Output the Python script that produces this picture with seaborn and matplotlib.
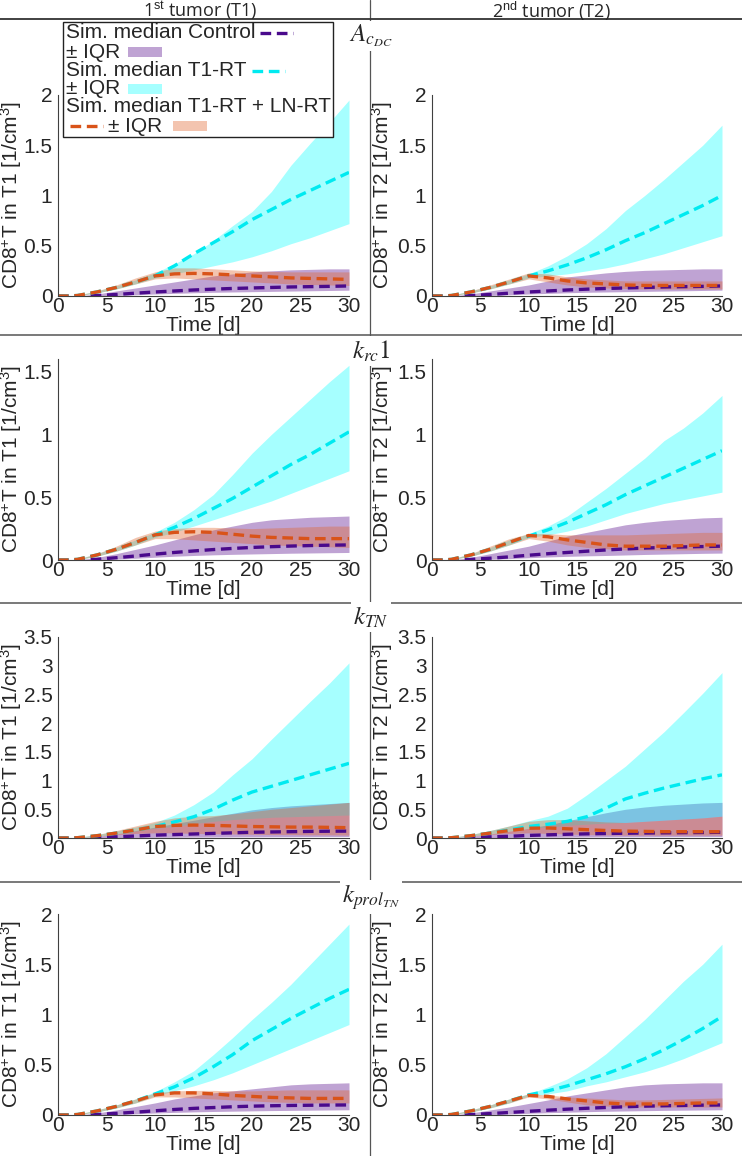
import matplotlib
matplotlib.use("Agg")
import matplotlib.pyplot as plt
from matplotlib.patches import Rectangle
import numpy as np
import seaborn as sns

# DATA
days = [0, 1, 2, 4, 6, 8, 10, 12, 14, 16, 18, 20, 22, 24, 26, 28, 30]

# A_cDC, 1st tumor
acdc_t1_ctrl_med = [0, 0, 0, 0.005, 0.015, 0.028, 0.04, 0.05, 0.06, 0.068, 0.075, 0.08, 0.085, 0.09, 0.093, 0.096, 0.1]
acdc_t1_ctrl_lo = [0, 0, 0, 0.002, 0.006, 0.012, 0.02, 0.026, 0.032, 0.037, 0.04, 0.043, 0.046, 0.049, 0.052, 0.055, 0.058]
acdc_t1_ctrl_hi = [0, 0, 0, 0.02, 0.05, 0.08, 0.11, 0.14, 0.17, 0.2, 0.22, 0.24, 0.25, 0.26, 0.265, 0.27, 0.27]
acdc_t1_rt_med = [0, 0, 0.005, 0.04, 0.085, 0.14, 0.2, 0.3, 0.42, 0.53, 0.64, 0.76, 0.86, 0.96, 1.05, 1.14, 1.23]
acdc_t1_rt_lo = [0, 0, 0.003, 0.03, 0.07, 0.12, 0.18, 0.22, 0.26, 0.3, 0.34, 0.39, 0.45, 0.52, 0.58, 0.65, 0.72]
acdc_t1_rt_hi = [0, 0, 0.008, 0.05, 0.1, 0.16, 0.23, 0.32, 0.42, 0.55, 0.7, 0.84, 1.04, 1.3, 1.52, 1.73, 1.95]
acdc_t1_ln_med = [0, 0, 0.005, 0.04, 0.085, 0.14, 0.2, 0.22, 0.225, 0.22, 0.21, 0.2, 0.19, 0.18, 0.175, 0.17, 0.165]
acdc_t1_ln_lo = [0, 0, 0.003, 0.03, 0.07, 0.12, 0.17, 0.18, 0.17, 0.16, 0.15, 0.14, 0.13, 0.12, 0.115, 0.11, 0.105]
acdc_t1_ln_hi = [0, 0, 0.008, 0.05, 0.11, 0.18, 0.24, 0.28, 0.28, 0.27, 0.26, 0.25, 0.245, 0.24, 0.24, 0.24, 0.24]

# A_cDC, 2nd tumor
acdc_t2_ctrl_med = [0, 0, 0, 0.005, 0.015, 0.028, 0.04, 0.05, 0.06, 0.068, 0.075, 0.08, 0.085, 0.09, 0.093, 0.096, 0.1]
acdc_t2_ctrl_lo = [0, 0, 0, 0.002, 0.006, 0.012, 0.02, 0.026, 0.032, 0.037, 0.04, 0.043, 0.046, 0.049, 0.052, 0.055, 0.058]
acdc_t2_ctrl_hi = [0, 0, 0, 0.02, 0.05, 0.08, 0.11, 0.15, 0.19, 0.21, 0.23, 0.245, 0.255, 0.26, 0.265, 0.27, 0.27]
acdc_t2_rt_med = [0, 0, 0.005, 0.04, 0.085, 0.14, 0.2, 0.25, 0.31, 0.38, 0.46, 0.55, 0.63, 0.72, 0.81, 0.9, 1.0]
acdc_t2_rt_lo = [0, 0, 0.003, 0.03, 0.07, 0.12, 0.18, 0.2, 0.22, 0.25, 0.28, 0.32, 0.37, 0.42, 0.48, 0.54, 0.6]
acdc_t2_rt_hi = [0, 0, 0.008, 0.05, 0.1, 0.16, 0.22, 0.3, 0.4, 0.52, 0.67, 0.85, 1.0, 1.16, 1.33, 1.5, 1.7]
acdc_t2_ln_med = [0, 0, 0.005, 0.04, 0.085, 0.14, 0.2, 0.18, 0.15, 0.13, 0.12, 0.11, 0.105, 0.105, 0.105, 0.105, 0.105]
acdc_t2_ln_lo = [0, 0, 0.003, 0.03, 0.07, 0.12, 0.17, 0.14, 0.11, 0.09, 0.08, 0.075, 0.07, 0.07, 0.07, 0.07, 0.07]
acdc_t2_ln_hi = [0, 0, 0.008, 0.05, 0.11, 0.17, 0.23, 0.22, 0.19, 0.17, 0.16, 0.15, 0.15, 0.15, 0.15, 0.15, 0.15]

# k_rc1, 1st tumor
krc_t1_ctrl_med = [0, 0, 0, 0.006, 0.018, 0.032, 0.047, 0.06, 0.072, 0.083, 0.092, 0.1, 0.106, 0.111, 0.115, 0.118, 0.12]
krc_t1_ctrl_lo = [0, 0, 0, 0.002, 0.007, 0.014, 0.022, 0.03, 0.036, 0.041, 0.045, 0.048, 0.051, 0.054, 0.056, 0.058, 0.06]
krc_t1_ctrl_hi = [0, 0, 0, 0.02, 0.05, 0.085, 0.12, 0.16, 0.2, 0.24, 0.27, 0.3, 0.32, 0.33, 0.34, 0.345, 0.35]
krc_t1_rt_med = [0, 0, 0.005, 0.04, 0.085, 0.14, 0.2, 0.26, 0.33, 0.41, 0.49, 0.58, 0.67, 0.76, 0.84, 0.93, 1.02]
krc_t1_rt_lo = [0, 0, 0.003, 0.03, 0.07, 0.12, 0.18, 0.22, 0.27, 0.32, 0.37, 0.42, 0.47, 0.53, 0.59, 0.65, 0.71]
krc_t1_rt_hi = [0, 0, 0.008, 0.05, 0.1, 0.16, 0.22, 0.3, 0.4, 0.52, 0.68, 0.85, 1.0, 1.14, 1.28, 1.42, 1.55]
krc_t1_ln_med = [0, 0, 0.005, 0.04, 0.085, 0.14, 0.2, 0.22, 0.225, 0.22, 0.205, 0.19, 0.18, 0.175, 0.17, 0.17, 0.17]
krc_t1_ln_lo = [0, 0, 0.003, 0.03, 0.07, 0.12, 0.17, 0.17, 0.16, 0.15, 0.14, 0.13, 0.12, 0.115, 0.11, 0.105, 0.1]
krc_t1_ln_hi = [0, 0, 0.008, 0.05, 0.11, 0.18, 0.23, 0.25, 0.26, 0.26, 0.255, 0.25, 0.255, 0.26, 0.265, 0.27, 0.27]

# k_rc1, 2nd tumor
krc_t2_ctrl_med = [0, 0, 0, 0.005, 0.014, 0.025, 0.038, 0.05, 0.06, 0.07, 0.08, 0.088, 0.095, 0.1, 0.104, 0.107, 0.11]
krc_t2_ctrl_lo = [0, 0, 0, 0.002, 0.006, 0.011, 0.018, 0.024, 0.029, 0.033, 0.036, 0.04, 0.044, 0.047, 0.05, 0.053, 0.055]
krc_t2_ctrl_hi = [0, 0, 0, 0.02, 0.05, 0.08, 0.11, 0.15, 0.19, 0.22, 0.25, 0.28, 0.3, 0.315, 0.325, 0.335, 0.34]
krc_t2_rt_med = [0, 0, 0.005, 0.04, 0.085, 0.14, 0.19, 0.24, 0.3, 0.37, 0.44, 0.52, 0.59, 0.66, 0.73, 0.8, 0.87]
krc_t2_rt_lo = [0, 0, 0.003, 0.03, 0.07, 0.12, 0.18, 0.2, 0.23, 0.27, 0.32, 0.37, 0.41, 0.45, 0.48, 0.51, 0.54]
krc_t2_rt_hi = [0, 0, 0.008, 0.05, 0.1, 0.16, 0.21, 0.27, 0.35, 0.46, 0.57, 0.69, 0.81, 0.95, 1.05, 1.17, 1.31]
krc_t2_ln_med = [0, 0, 0.005, 0.04, 0.085, 0.14, 0.195, 0.185, 0.16, 0.14, 0.12, 0.11, 0.11, 0.11, 0.115, 0.12, 0.12]
krc_t2_ln_lo = [0, 0, 0.003, 0.03, 0.07, 0.12, 0.17, 0.15, 0.12, 0.1, 0.09, 0.08, 0.08, 0.08, 0.08, 0.08, 0.08]
krc_t2_ln_hi = [0, 0, 0.008, 0.05, 0.11, 0.17, 0.21, 0.21, 0.2, 0.2, 0.2, 0.2, 0.205, 0.21, 0.215, 0.22, 0.22]

# k_TN, 1st tumor
ktn_t1_ctrl_med = [0, 0, 0, 0.01, 0.02, 0.035, 0.05, 0.06, 0.07, 0.08, 0.09, 0.1, 0.105, 0.11, 0.115, 0.118, 0.12]
ktn_t1_ctrl_lo = [0, 0, 0, 0.003, 0.006, 0.01, 0.012, 0.014, 0.016, 0.018, 0.02, 0.021, 0.022, 0.023, 0.024, 0.025, 0.025]
ktn_t1_ctrl_hi = [0, 0, 0, 0.03, 0.07, 0.13, 0.19, 0.25, 0.31, 0.37, 0.43, 0.49, 0.53, 0.56, 0.58, 0.6, 0.62]
ktn_t1_rt_med = [0, 0, 0.005, 0.04, 0.085, 0.14, 0.2, 0.28, 0.37, 0.5, 0.66, 0.8, 0.9, 1.0, 1.1, 1.2, 1.3]
ktn_t1_rt_lo = [0, 0, 0.003, 0.03, 0.07, 0.12, 0.17, 0.2, 0.25, 0.29, 0.32, 0.34, 0.36, 0.37, 0.38, 0.39, 0.4]
ktn_t1_rt_hi = [0, 0, 0.01, 0.06, 0.12, 0.19, 0.27, 0.4, 0.58, 0.8, 1.1, 1.38, 1.72, 2.05, 2.38, 2.7, 3.05]
ktn_t1_ln_med = [0, 0, 0.005, 0.04, 0.085, 0.14, 0.2, 0.22, 0.225, 0.22, 0.21, 0.2, 0.195, 0.19, 0.19, 0.185, 0.18]
ktn_t1_ln_lo = [0, 0, 0.003, 0.03, 0.06, 0.08, 0.09, 0.09, 0.08, 0.075, 0.07, 0.065, 0.06, 0.06, 0.055, 0.055, 0.05]
ktn_t1_ln_hi = [0, 0, 0.01, 0.06, 0.13, 0.21, 0.29, 0.35, 0.38, 0.39, 0.42, 0.46, 0.5, 0.53, 0.56, 0.59, 0.62]

# k_TN, 2nd tumor
ktn_t2_ctrl_med = [0, 0, 0, 0.01, 0.02, 0.03, 0.045, 0.055, 0.065, 0.072, 0.078, 0.083, 0.087, 0.09, 0.093, 0.096, 0.1]
ktn_t2_ctrl_lo = [0, 0, 0, 0.003, 0.006, 0.01, 0.012, 0.014, 0.016, 0.018, 0.02, 0.021, 0.022, 0.023, 0.024, 0.025, 0.025]
ktn_t2_ctrl_hi = [0, 0, 0, 0.03, 0.07, 0.12, 0.17, 0.23, 0.3, 0.37, 0.44, 0.5, 0.54, 0.57, 0.59, 0.61, 0.62]
ktn_t2_rt_med = [0, 0, 0.005, 0.04, 0.085, 0.14, 0.2, 0.24, 0.29, 0.37, 0.52, 0.68, 0.78, 0.87, 0.95, 1.03, 1.1]
ktn_t2_rt_lo = [0, 0, 0.003, 0.03, 0.07, 0.12, 0.17, 0.19, 0.22, 0.24, 0.26, 0.27, 0.29, 0.31, 0.33, 0.35, 0.38]
ktn_t2_rt_hi = [0, 0, 0.01, 0.06, 0.13, 0.21, 0.3, 0.38, 0.52, 0.75, 1.0, 1.25, 1.55, 1.85, 2.18, 2.52, 2.88]
ktn_t2_ln_med = [0, 0, 0.005, 0.04, 0.085, 0.13, 0.17, 0.175, 0.16, 0.145, 0.13, 0.12, 0.115, 0.11, 0.11, 0.11, 0.11]
ktn_t2_ln_lo = [0, 0, 0.003, 0.03, 0.06, 0.08, 0.09, 0.08, 0.07, 0.06, 0.055, 0.05, 0.05, 0.05, 0.05, 0.05, 0.05]
ktn_t2_ln_hi = [0, 0, 0.01, 0.06, 0.13, 0.21, 0.29, 0.32, 0.32, 0.3, 0.28, 0.27, 0.29, 0.31, 0.33, 0.35, 0.38]

# k_prol_TN, 1st tumor
kprol_t1_ctrl_med = [0, 0, 0, 0.006, 0.016, 0.028, 0.042, 0.055, 0.066, 0.074, 0.082, 0.088, 0.092, 0.095, 0.097, 0.099, 0.1]
kprol_t1_ctrl_lo = [0, 0, 0, 0.002, 0.006, 0.012, 0.02, 0.026, 0.031, 0.035, 0.038, 0.041, 0.044, 0.046, 0.048, 0.05, 0.052]
kprol_t1_ctrl_hi = [0, 0, 0, 0.02, 0.05, 0.085, 0.12, 0.16, 0.19, 0.22, 0.24, 0.26, 0.28, 0.3, 0.31, 0.315, 0.32]
kprol_t1_rt_med = [0, 0, 0.005, 0.04, 0.085, 0.14, 0.21, 0.28, 0.37, 0.48, 0.6, 0.74, 0.85, 0.96, 1.06, 1.16, 1.25]
kprol_t1_rt_lo = [0, 0, 0.003, 0.03, 0.07, 0.12, 0.19, 0.24, 0.29, 0.35, 0.42, 0.5, 0.58, 0.66, 0.74, 0.82, 0.9]
kprol_t1_rt_hi = [0, 0, 0.008, 0.05, 0.1, 0.16, 0.23, 0.33, 0.44, 0.6, 0.77, 0.95, 1.12, 1.3, 1.5, 1.7, 1.9]
kprol_t1_ln_med = [0, 0, 0.005, 0.04, 0.085, 0.14, 0.2, 0.22, 0.22, 0.21, 0.195, 0.185, 0.175, 0.17, 0.165, 0.165, 0.165]
kprol_t1_ln_lo = [0, 0, 0.003, 0.03, 0.07, 0.12, 0.18, 0.18, 0.17, 0.16, 0.15, 0.14, 0.13, 0.125, 0.12, 0.12, 0.12]
kprol_t1_ln_hi = [0, 0, 0.008, 0.05, 0.1, 0.16, 0.22, 0.24, 0.245, 0.245, 0.24, 0.24, 0.245, 0.25, 0.25, 0.25, 0.25]

# k_prol_TN, 2nd tumor
kprol_t2_ctrl_med = [0, 0, 0, 0.005, 0.014, 0.025, 0.037, 0.048, 0.058, 0.067, 0.075, 0.082, 0.088, 0.092, 0.095, 0.098, 0.1]
kprol_t2_ctrl_lo = [0, 0, 0, 0.002, 0.005, 0.01, 0.017, 0.023, 0.028, 0.033, 0.037, 0.04, 0.043, 0.046, 0.048, 0.05, 0.052]
kprol_t2_ctrl_hi = [0, 0, 0, 0.02, 0.05, 0.08, 0.115, 0.15, 0.19, 0.22, 0.25, 0.28, 0.3, 0.31, 0.315, 0.32, 0.32]
kprol_t2_rt_med = [0, 0, 0.005, 0.04, 0.085, 0.14, 0.2, 0.24, 0.29, 0.35, 0.41, 0.48, 0.56, 0.65, 0.75, 0.86, 0.98]
kprol_t2_rt_lo = [0, 0, 0.003, 0.03, 0.07, 0.12, 0.19, 0.21, 0.24, 0.29, 0.33, 0.38, 0.43, 0.49, 0.56, 0.64, 0.72]
kprol_t2_rt_hi = [0, 0, 0.008, 0.05, 0.1, 0.16, 0.21, 0.28, 0.36, 0.47, 0.61, 0.78, 0.95, 1.14, 1.33, 1.5, 1.7]
kprol_t2_ln_med = [0, 0, 0.005, 0.04, 0.085, 0.14, 0.195, 0.185, 0.16, 0.14, 0.12, 0.11, 0.11, 0.11, 0.115, 0.12, 0.12]
kprol_t2_ln_lo = [0, 0, 0.003, 0.03, 0.07, 0.12, 0.18, 0.16, 0.13, 0.1, 0.09, 0.08, 0.08, 0.08, 0.08, 0.08, 0.08]
kprol_t2_ln_hi = [0, 0, 0.008, 0.05, 0.1, 0.16, 0.21, 0.2, 0.18, 0.17, 0.16, 0.15, 0.15, 0.155, 0.16, 0.165, 0.17]

row_titles = [r"$A_{c_{DC}}$", r"$k_{rc}1$", r"$k_{TN}$", r"$k_{prol_{TN}}$"]
row_ymax = [2, 1.6, 3.5, 2]
col_headers = [r"1$^{\mathrm{st}}$ tumor (T1)", r"2$^{\mathrm{nd}}$ tumor (T2)"]
col_ylabels = [r"CD8$^{+}$T in T1 [1/cm$^{3}$]", r"CD8$^{+}$T in T2 [1/cm$^{3}$]"]

panels = [
    [(acdc_t1_ctrl_med, acdc_t1_ctrl_lo, acdc_t1_ctrl_hi, acdc_t1_rt_med, acdc_t1_rt_lo, acdc_t1_rt_hi,
      acdc_t1_ln_med, acdc_t1_ln_lo, acdc_t1_ln_hi),
     (acdc_t2_ctrl_med, acdc_t2_ctrl_lo, acdc_t2_ctrl_hi, acdc_t2_rt_med, acdc_t2_rt_lo, acdc_t2_rt_hi,
      acdc_t2_ln_med, acdc_t2_ln_lo, acdc_t2_ln_hi)],
    [(krc_t1_ctrl_med, krc_t1_ctrl_lo, krc_t1_ctrl_hi, krc_t1_rt_med, krc_t1_rt_lo, krc_t1_rt_hi,
      krc_t1_ln_med, krc_t1_ln_lo, krc_t1_ln_hi),
     (krc_t2_ctrl_med, krc_t2_ctrl_lo, krc_t2_ctrl_hi, krc_t2_rt_med, krc_t2_rt_lo, krc_t2_rt_hi,
      krc_t2_ln_med, krc_t2_ln_lo, krc_t2_ln_hi)],
    [(ktn_t1_ctrl_med, ktn_t1_ctrl_lo, ktn_t1_ctrl_hi, ktn_t1_rt_med, ktn_t1_rt_lo, ktn_t1_rt_hi,
      ktn_t1_ln_med, ktn_t1_ln_lo, ktn_t1_ln_hi),
     (ktn_t2_ctrl_med, ktn_t2_ctrl_lo, ktn_t2_ctrl_hi, ktn_t2_rt_med, ktn_t2_rt_lo, ktn_t2_rt_hi,
      ktn_t2_ln_med, ktn_t2_ln_lo, ktn_t2_ln_hi)],
    [(kprol_t1_ctrl_med, kprol_t1_ctrl_lo, kprol_t1_ctrl_hi, kprol_t1_rt_med, kprol_t1_rt_lo, kprol_t1_rt_hi,
      kprol_t1_ln_med, kprol_t1_ln_lo, kprol_t1_ln_hi),
     (kprol_t2_ctrl_med, kprol_t2_ctrl_lo, kprol_t2_ctrl_hi, kprol_t2_rt_med, kprol_t2_rt_lo, kprol_t2_rt_hi,
      kprol_t2_ln_med, kprol_t2_ln_lo, kprol_t2_ln_hi)],
]

# STYLE
sns.set_theme(style="white")
plt.rcParams["font.family"] = ["Liberation Sans", "DejaVu Sans"]
plt.rcParams["mathtext.fontset"] = "custom"
plt.rcParams["mathtext.rm"] = "Liberation Sans"
plt.rcParams["mathtext.it"] = "Liberation Sans:italic"
plt.rcParams["mathtext.bf"] = "Liberation Sans:bold"

ctrl_line, ctrl_fill = "#4a0a8c", "#73339f"
rt_line, rt_fill = "#00eaf0", "#00ffff"
ln_line, ln_fill = "#d95319", "#e0662e"
ctrl_alpha, rt_alpha, ln_alpha = 0.45, 0.35, 0.38
dash = (0, (3.2, 1.7))
lw = 2.4

W, H = 742, 1156
fig = plt.figure(figsize=(W / 100, H / 100), dpi=100)

row_top = [95, 359, 637, 914]
row_h = 201
col_x = [58, 432]
col_w = [291, 290]
ylabel_x = [-0.118, -0.128]


def draw_panel(ax, vals, ymax, ylabel, lx):
    c_med, c_lo, c_hi, r_med, r_lo, r_hi, l_med, l_lo, l_hi = vals
    ax.fill_between(days, c_lo, c_hi, color=ctrl_fill, alpha=ctrl_alpha, lw=0)
    ax.fill_between(days, r_lo, r_hi, color=rt_fill, alpha=rt_alpha, lw=0)
    ax.fill_between(days, l_lo, l_hi, color=ln_fill, alpha=ln_alpha, lw=0)
    sns.lineplot(x=days, y=c_med, ax=ax, color=ctrl_line, linewidth=lw, linestyle=dash)
    sns.lineplot(x=days, y=r_med, ax=ax, color=rt_line, linewidth=lw, linestyle=dash)
    sns.lineplot(x=days, y=l_med, ax=ax, color=ln_line, linewidth=lw, linestyle=dash)
    ax.set_xlim(0, 30)
    ax.set_ylim(0, ymax)
    ax.set_xticks(range(0, 31, 5))
    ticks = np.arange(0, ymax + 0.01, 0.5)
    ax.set_yticks(ticks)
    ax.set_yticklabels([f"{v:g}" for v in ticks])
    ax.set_xlabel("Time [d]", fontsize=15, color="#262626")
    ax.set_ylabel(ylabel, fontsize=15, color="#262626")
    ax.xaxis.set_label_coords(0.5, -0.1)
    ax.yaxis.set_label_coords(lx, 0.5)
    for s in ["top", "right"]:
        ax.spines[s].set_visible(False)
    for s in ["left", "bottom"]:
        ax.spines[s].set_color("#404040")
        ax.spines[s].set_linewidth(0.8)
    ax.tick_params(direction="in", length=3, width=0.8, color="#404040",
                   labelcolor="#262626", labelsize=15)
    ax.tick_params(axis="x", pad=1)
    ax.tick_params(axis="y", pad=4)
    ax.set_facecolor("none")


for r in range(4):
    for c in range(2):
        ax = fig.add_axes([col_x[c] / W, 1 - (row_top[r] + row_h) / H, col_w[c] / W, row_h / H])
        draw_panel(ax, panels[r][c], row_ymax[r], col_ylabels[c], ylabel_x[c])

# overlay in pixel coordinates for dividers, headers, titles and legend
ov = fig.add_axes([0, 0, 1, 1], zorder=10)
ov.set_xlim(0, W)
ov.set_ylim(H, 0)
ov.axis("off")
ov.patch.set_alpha(0)

ov.plot([370, 370], [0, H], color="#555555", lw=0.9)
ov.plot([0, W], [19, 19], color="#333333", lw=1.3)
for y in [335, 603, 882]:
    ov.plot([0, W], [y, y], color="#555555", lw=1.1)

ov.text(200, 11, col_headers[0], ha="center", va="center", fontsize=13, family="Open Sans")
ov.text(551, 11, col_headers[1], ha="center", va="center", fontsize=13, family="Open Sans")

for y, t in zip([36, 351, 617, 897], row_titles):
    ov.text(371, y, t, ha="center", va="center", fontsize=18, math_fontfamily="stix",
            bbox=dict(fc="white", ec="none", pad=1.5))

# legend
ov.add_patch(Rectangle((63, 22), 270, 115, fc="white", ec="#222222", lw=1))
fs = 15
ov.text(66, 33, "Sim. median Control", fontsize=fs, va="center", ha="left")
ov.plot([260, 293], [33, 33], color=ctrl_line, lw=lw, linestyle=dash)
ov.text(66, 52, "± IQR", fontsize=fs, va="center", ha="left")
ov.add_patch(Rectangle((128, 47), 34, 10, fc=ctrl_fill, alpha=ctrl_alpha, lw=0))
ov.text(66, 71, "Sim. median T1-RT", fontsize=fs, va="center", ha="left")
ov.plot([252, 285], [71, 71], color=rt_line, lw=lw, linestyle=dash)
ov.text(66, 89, "± IQR", fontsize=fs, va="center", ha="left")
ov.add_patch(Rectangle((128, 84), 34, 10, fc=rt_fill, alpha=rt_alpha, lw=0))
ov.text(66, 107, "Sim. median T1-RT + LN-RT", fontsize=fs, va="center", ha="left")
ov.plot([70, 103], [126, 126], color=ln_line, lw=lw, linestyle=dash)
ov.text(108, 126, "± IQR", fontsize=fs, va="center", ha="left")
ov.add_patch(Rectangle((173, 121), 34, 10, fc=ln_fill, alpha=ln_alpha, lw=0))

fig.savefig("out.png", dpi=100, facecolor="white")
